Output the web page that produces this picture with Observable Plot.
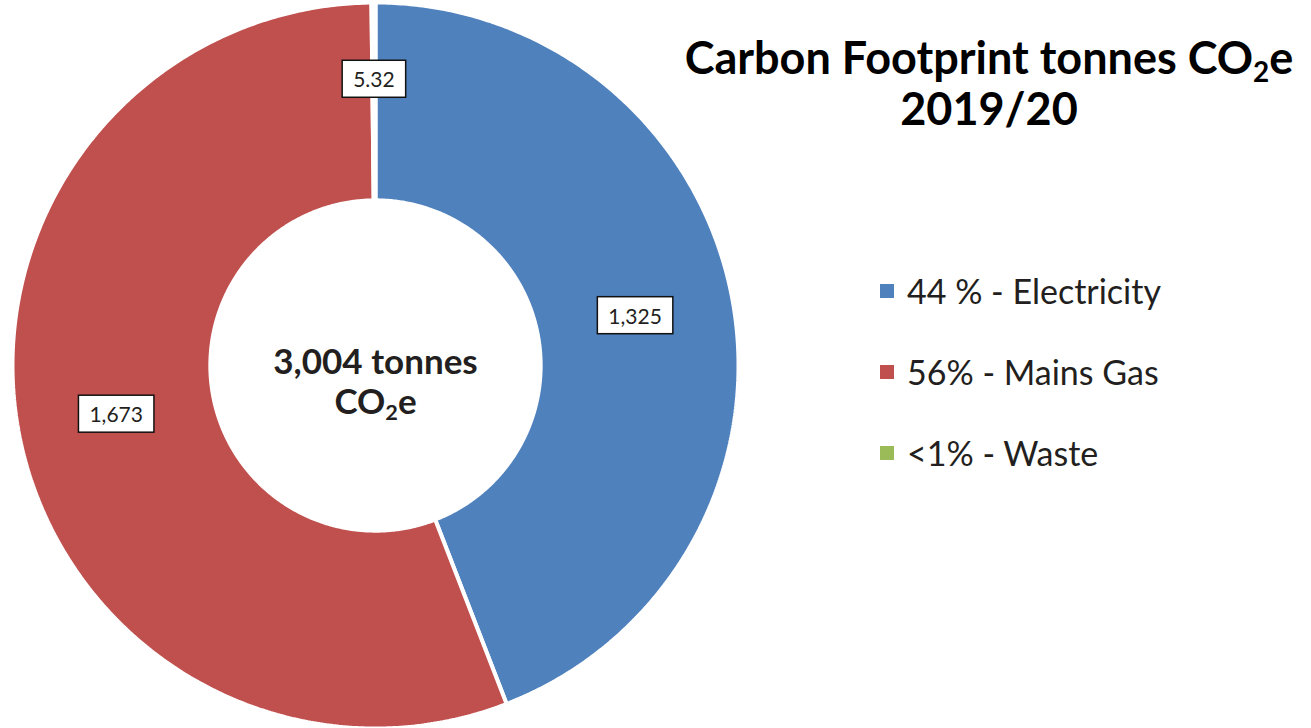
<!DOCTYPE html>
<html><head><meta charset="utf-8">
<script src="https://cdn.jsdelivr.net/npm/d3@7"></script>
<script src="https://cdn.jsdelivr.net/npm/@observablehq/plot@0.6"></script>
<style>
body{margin:0;background:#fff;}
#wrap{position:relative;width:1311px;height:728px;font-family:Lato,"Open Sans",sans-serif;color:#231f20;overflow:hidden;}
#chart svg{display:block;}
#title{position:absolute;left:639px;width:700px;top:32px;text-align:center;font-weight:700;font-size:45px;line-height:51px;color:#000;}
#title sub{font-size:62%;vertical-align:-0.3em;line-height:0;}
#legend{position:absolute;left:880px;top:250px;}
.row{display:flex;align-items:center;height:81px;font-size:34px;}
.sw{width:14px;height:14px;margin-right:13px;flex:none;}
</style></head>
<body><div id="wrap"><div id="chart"></div><div id="title"></div><div id="legend"></div></div>
<script>
const categories = ["Electricity", "Mains Gas", "Waste"];
const values = [1325, 1673, 5.32];
const valueLabels = ["1,325", "1,673", "5.32"];
const legendLabels = ["44 % - Electricity", "56% - Mains Gas", "<1% - Waste"];
const colors = ["#4F81BD", "#C0504D", "#9BBB59"];
const centerLines = ["3,004 tonnes", "CO₂e"];
const titleLines = ["Carbon Footprint tonnes CO<sub>2</sub>e", "2019/20"];

const R1 = 1, R0 = 0.455;
const total = d3.sum(values);
const arcs = d3.pie().sort(null).value(d => d)(values);

// polygon outline for each donut slice
const ring = [];
arcs.forEach((p, i) => {
  const span = p.endAngle - p.startAngle;
  const n = Math.max(2, Math.ceil(span / (Math.PI / 360)));
  const pts = [];
  for (let k = 0; k <= n; k++) { const a = p.startAngle + span * k / n; pts.push([R1 * Math.sin(a), R1 * Math.cos(a)]); }
  for (let k = n; k >= 0; k--) { const a = p.startAngle + span * k / n; pts.push([R0 * Math.sin(a), R0 * Math.cos(a)]); }
  pts.push(pts[0]);
  pts.forEach(([x, y]) => ring.push({cat: categories[i], x, y}));
});

const labels = arcs.map((p, i) => {
  const a = (p.startAngle + p.endAngle) / 2;
  const r = values[i] / total < 0.01 ? 0.785 : (R0 + R1) / 2;
  return {x: r * Math.sin(a), y: r * Math.cos(a), text: valueLabels[i]};
});

const chart = Plot.plot({
  width: 1311, height: 728,
  marginLeft: 12, marginRight: 573, marginTop: 2, marginBottom: 0,
  x: {domain: [-1, 1], axis: null},
  y: {domain: [-1, 1], axis: null},
  color: {domain: categories, range: colors},
  style: {background: "transparent", fontFamily: "Lato, 'Open Sans', sans-serif"},
  marks: [
    Plot.line(ring, {x: "x", y: "y", z: "cat", fill: "cat", stroke: "white", strokeWidth: 4, strokeLinejoin: "miter"}),
    Plot.text(labels, {x: "x", y: "y", text: "text", fontSize: 21, fill: "#231f20"}),
    Plot.text([centerLines.join("\n")], {x: () => 0, y: () => 0, text: d => d, fontSize: 35, fontWeight: "bold", lineHeight: 1.12, dy: 16, fill: "#231f20"})
  ]
});
document.getElementById("chart").appendChild(chart);

const allTexts = Array.from(chart.querySelectorAll("text"));

// boxes behind the value labels
allTexts.filter(t => valueLabels.includes(t.textContent.trim())).forEach(t => {
  const b = t.getBBox();
  const rect = document.createElementNS("http://www.w3.org/2000/svg", "rect");
  const px = 11, py = 6;
  rect.setAttribute("x", b.x - px); rect.setAttribute("y", b.y - py);
  rect.setAttribute("width", b.width + 2 * px); rect.setAttribute("height", b.height + 2 * py);
  rect.setAttribute("fill", "white"); rect.setAttribute("stroke", "#111"); rect.setAttribute("stroke-width", 1.5);
  const tr = t.getAttribute("transform");
  if (tr) rect.setAttribute("transform", tr);
  t.parentNode.insertBefore(rect, t);
});

// real subscript 2 in centre label
allTexts.filter(t => t.textContent.includes("₂")).forEach(t => {
  t.querySelectorAll("tspan").forEach(ts => {
    if (ts.textContent.includes("₂")) {
      const [a, b] = ts.textContent.split("₂");
      ts.textContent = a;
      const sub = document.createElementNS("http://www.w3.org/2000/svg", "tspan");
      sub.setAttribute("font-size", "62%"); sub.setAttribute("dy", "0.3em"); sub.textContent = "2";
      const rest = document.createElementNS("http://www.w3.org/2000/svg", "tspan");
      rest.setAttribute("dy", "-0.186em"); rest.textContent = b;
      ts.appendChild(sub); ts.appendChild(rest);
    }
  });
});

document.getElementById("title").innerHTML = titleLines.join("<br>");
const lg = document.getElementById("legend");
categories.forEach((c, i) => {
  const row = document.createElement("div"); row.className = "row";
  const sw = document.createElement("span"); sw.className = "sw"; sw.style.background = colors[i];
  const tx = document.createElement("span"); tx.textContent = legendLabels[i];
  row.appendChild(sw); row.appendChild(tx); lg.appendChild(row);
});
</script>
</body></html>
